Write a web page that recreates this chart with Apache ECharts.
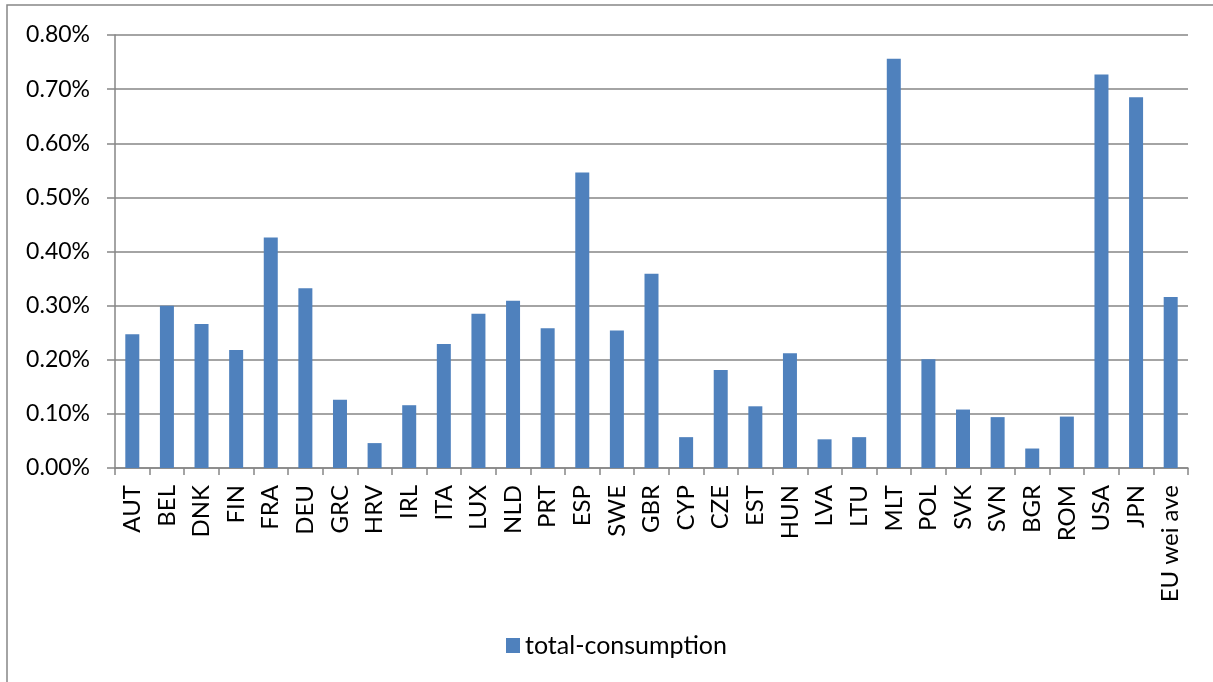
<!DOCTYPE html>
<html>
<head>
<meta charset="utf-8">
<script src="https://cdn.jsdelivr.net/npm/echarts@6/dist/echarts.min.js"></script>
<style>
  html, body { margin: 0; padding: 0; background: #fff; }
  #chart { width: 1213px; height: 682px; }
</style>
</head>
<body>
<div id="chart"></div>
<script>
// countries on the x axis
const countries = ['AUT', 'BEL', 'DNK', 'FIN', 'FRA', 'DEU', 'GRC', 'HRV', 'IRL', 'ITA',
  'LUX', 'NLD', 'PRT', 'ESP', 'SWE', 'GBR', 'CYP', 'CZE', 'EST', 'HUN',
  'LVA', 'LTU', 'MLT', 'POL', 'SVK', 'SVN', 'BGR', 'ROM', 'USA', 'JPN', 'EU wei ave'];

// total-consumption, in percent
const totalConsumption = [0.247, 0.300, 0.266, 0.218, 0.426, 0.332, 0.126, 0.046, 0.116, 0.229,
  0.285, 0.309, 0.258, 0.546, 0.254, 0.359, 0.057, 0.181, 0.114, 0.212,
  0.053, 0.057, 0.756, 0.201, 0.108, 0.094, 0.036, 0.095, 0.727, 0.685, 0.316];

const yTicks = { min: 0, max: 0.8, interval: 0.1 };

const font = 'Lato';
const grey = '#868686';

const chart = echarts.init(document.getElementById('chart'));
const options = {
  backgroundColor: '#ffffff',
  animation: false,
  textStyle: { fontFamily: font },
  grid: { left: 115, right: 25, top: 35, bottom: 214 },
  legend: {
    data: ['total-consumption'],
    left: 506,
    top: 633,
    padding: 0,
    icon: 'rect',
    itemWidth: 14,
    itemHeight: 15,
    textStyle: { fontFamily: font, fontSize: 25, color: '#000' }
  },
  graphic: [
    {
      type: 'rect',
      shape: { x: 7, y: 5, width: 1220, height: 700 },
      style: { fill: 'none', stroke: grey, lineWidth: 1.5 },
      silent: true
    }
  ],
  xAxis: {
    type: 'category',
    data: countries,
    axisLine: { lineStyle: { color: grey, width: 1.5 } },
    axisTick: { show: true, length: 7, lineStyle: { color: grey, width: 1.5 } },
    axisLabel: {
      interval: 0,
      rotate: 90,
      margin: 17,
      fontFamily: font,
      fontSize: 24,
      color: '#000'
    }
  },
  yAxis: {
    type: 'value',
    min: yTicks.min,
    max: yTicks.max,
    interval: yTicks.interval,
    axisLine: { show: true, lineStyle: { color: grey, width: 1.5 } },
    axisTick: { show: true, length: 8, lineStyle: { color: grey, width: 1.5 } },
    splitLine: { show: true, lineStyle: { color: grey, width: 1.5 } },
    axisLabel: {
      margin: 25,
      fontFamily: font,
      fontSize: 23,
      color: '#000',
      formatter: (value) => value.toFixed(2) + '%'
    }
  },
  series: [
    {
      name: 'total-consumption',
      type: 'bar',
      data: totalConsumption,
      barWidth: 14,
      itemStyle: { color: '#4f81bd' }
    }
  ]
};
chart.setOption(options);
</script>
</body>
</html>
